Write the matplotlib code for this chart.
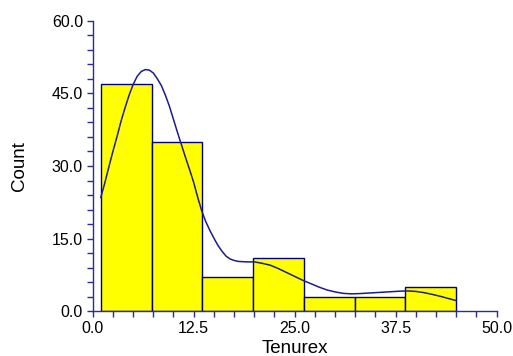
import numpy as np
from matplotlib import pyplot as plt
from matplotlib.ticker import MultipleLocator

# histogram of Tenurex
bin_edges = [1.0, 7.286, 13.571, 19.857, 26.143, 32.429, 38.714, 45.0]
counts = [47, 35, 7, 11, 3, 3, 5]

# density curve (scaled to counts)
curve_x = [1.0, 1.5, 2.0, 2.5, 3.0, 3.5, 4.0, 4.5, 5.0, 5.5, 6.0, 6.5, 7.0,
           7.5, 8.0, 8.5, 9.0, 9.5, 10.0, 10.5, 11.0, 11.5, 12.0, 12.5, 13.0,
           13.5, 14.0, 14.5, 15.0, 15.5, 16.0, 16.5, 17.0, 17.5, 18.0, 19.0,
           20.0, 21.0, 22.0, 23.0, 24.0, 25.0, 26.0, 27.0, 28.0, 29.0, 30.0,
           31.0, 32.0, 33.0, 34.0, 35.0, 36.0, 37.0, 38.0, 39.0, 40.0, 41.0,
           42.0, 43.0, 44.0, 45.0]
curve_y = [23.5, 26.5, 29.8, 33.0, 36.0, 39.2, 42.0, 44.6, 46.8, 48.5, 49.5,
           49.9, 49.8, 49.2, 48.0, 46.6, 44.6, 42.3, 39.6, 36.9, 34.3, 31.7,
           29.2, 26.6, 23.5, 20.7, 18.5, 16.7, 15.1, 13.6, 12.4, 11.4, 10.8,
           10.5, 10.3, 10.2, 10.2, 9.9, 9.5, 8.8, 8.0, 7.2, 6.4, 5.7, 5.0, 4.4,
           4.0, 3.7, 3.6, 3.65, 3.75, 3.85, 3.95, 4.05, 4.15, 4.2, 4.1, 3.85,
           3.5, 3.1, 2.65, 2.2]

navy = "#000080"
axis_color = "#2b2b90"

plt.rcParams["font.family"] = ["Liberation Sans", "DejaVu Sans"]

fig = plt.figure(figsize=(5.13, 3.56), dpi=100)
ax = fig.add_axes([0.1807, 0.1256, 0.7875, 0.8163])

widths = np.diff(bin_edges)
ax.bar(bin_edges[:-1], counts, width=widths, align="edge",
       color="#ffff00", edgecolor=navy, linewidth=1.0, zorder=2)
ax.plot(curve_x, curve_y, color="#1c1c8a", linewidth=1.1, zorder=3)

ax.set_xlim(0, 50)
ax.set_ylim(0, 60)
ax.xaxis.set_major_locator(MultipleLocator(12.5))
ax.xaxis.set_minor_locator(MultipleLocator(2.5))
ax.yaxis.set_major_locator(MultipleLocator(15))
ax.yaxis.set_minor_locator(MultipleLocator(3))
ax.xaxis.set_major_formatter(lambda v, p: f"{v:.1f}")
ax.yaxis.set_major_formatter(lambda v, p: f"{v:.1f}")

for side in ["top", "right"]:
    ax.spines[side].set_visible(False)
for side in ["left", "bottom"]:
    ax.spines[side].set_color(axis_color)
    ax.spines[side].set_linewidth(1.0)

ax.tick_params(which="both", direction="out", color=axis_color, width=1.0,
               labelsize=11.5, labelcolor="black")
ax.tick_params(which="major", length=4.5, pad=2.5)
ax.tick_params(which="minor", length=4.0)

ax.set_xlabel("Tenurex", fontsize=13.5, labelpad=3)
ax.set_ylabel("Count", fontsize=13.5, labelpad=17)

fig.savefig("out.png", dpi=100)
